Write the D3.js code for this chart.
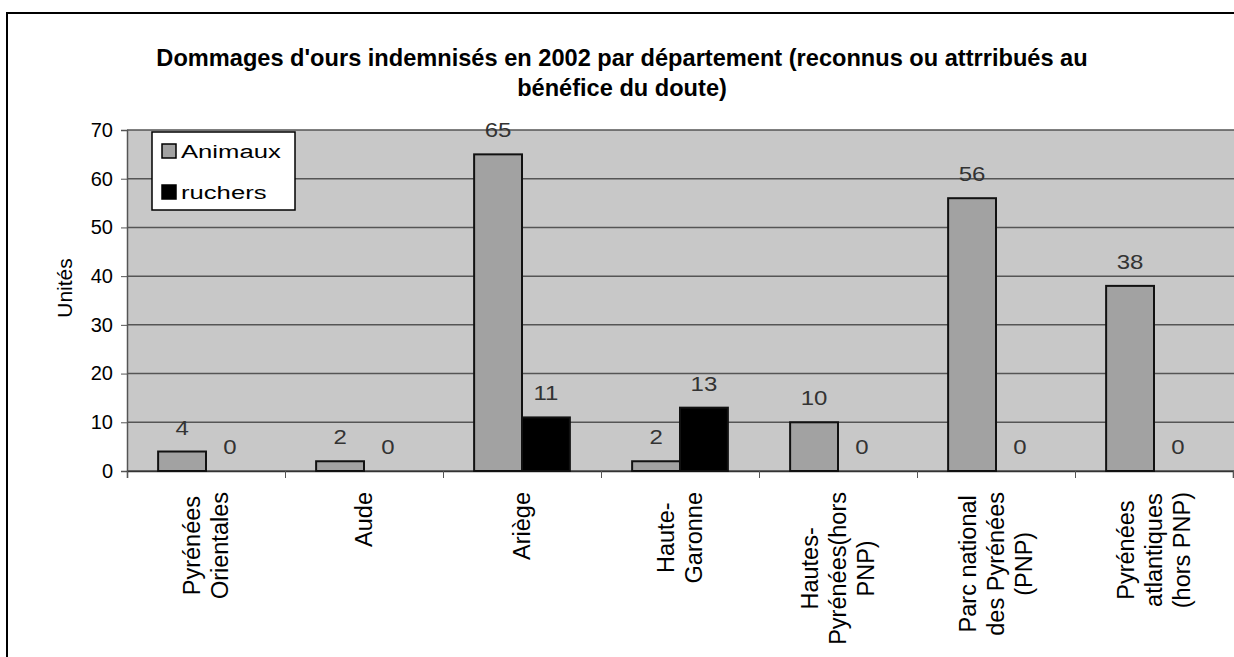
<!DOCTYPE html>
<html><head><meta charset="utf-8">
<script src="https://cdn.jsdelivr.net/npm/d3@7"></script>
<style>body{margin:0;background:#fff;overflow:hidden}</style>
</head><body><svg id="c" width="1234" height="657"></svg>
<script>
// ---- data ----
const categoryLines = [["Pyrénées","Orientales"],["Aude"],["Ariège"],["Haute-","Garonne"],["Hautes-","Pyrénées(hors","PNP)"],["Parc national","des Pyrénées","(PNP)"],["Pyrénées","atlantiques","(hors PNP)"]];
const seriesNames = ["Animaux","ruchers"];
const animaux = [4,2,65,2,10,56,38];
const ruchers = [0,0,11,13,0,0,0];
const yTicks = [0,10,20,30,40,50,60,70];
const titleLines = ["Dommages d'ours indemnisés en 2002 par département (reconnus ou attrribués au","bénéfice du doute)"];
const yLabel = "Unités";

const FONT = "'Liberation Sans', Arial, sans-serif";
const svg = d3.select("#c");
const L = 127, R = 1233, T = 130, B = 471;

const x0 = d3.scaleBand().domain(d3.range(categoryLines.length)).range([L, R]).padding(0);
const x1 = d3.scaleBand().domain(seriesNames).range([0, x0.bandwidth()]).paddingInner(0).paddingOuter(0.65);
const xb = d3.scaleLinear().domain([0, categoryLines.length]).range([L, R]);
const y = d3.scaleLinear().domain([0, 70]).range([B, T]);
const fills = {Animaux: "#a2a2a2", ruchers: "#000"};

// outer border
svg.append("path").attr("d", `M7,657V13H1234`).attr("fill","none").attr("stroke","#000").attr("stroke-width",2);

// title
svg.append("g").selectAll("text").data(titleLines).join("text")
  .attr("x", 622).attr("y", (d,i) => 66 + i*30)
  .attr("text-anchor","middle").attr("font-family",FONT).attr("font-weight","bold")
  .attr("font-size",23.6).text(d => d);

// plot bg
svg.append("rect").attr("x", L).attr("y", T).attr("width", 1234-L).attr("height", B-T).attr("fill", "#c8c8c8");

// gridlines
svg.append("g").selectAll("line").data(yTicks).join("line")
  .attr("x1", L).attr("x2", 1234).attr("y1", d => y(d)).attr("y2", d => y(d))
  .attr("stroke", "#555").attr("stroke-width", 1.5);

// y axis
const ya = svg.append("g").attr("transform", `translate(${L},0)`)
  .call(d3.axisLeft(y).tickValues(yTicks).tickSize(6).tickPadding(8));
ya.select(".domain").attr("stroke","#555").attr("stroke-width",1.5);
ya.selectAll(".tick line").attr("stroke","#555");
ya.selectAll(".tick text").attr("font-family",FONT).attr("font-size",20).attr("fill","#000");

// x axis
const xa = svg.append("g").attr("transform", `translate(0,${B})`)
  .call(d3.axisBottom(xb).tickValues(d3.range(categoryLines.length+1)).tickSize(7).tickFormat(""));
xa.select(".domain").attr("stroke","#333").attr("stroke-width",1.5);
xa.selectAll(".tick line").attr("stroke","#555");

// bars
const rows = categoryLines.map((c,i) => ({i, vals: [{k:"Animaux", v: animaux[i]}, {k:"ruchers", v: ruchers[i]}]}));
const g = svg.append("g").selectAll("g").data(rows).join("g").attr("transform", d => `translate(${x0(d.i)},0)`);
g.selectAll("rect").data(d => d.vals.filter(e => e.v > 0)).join("rect")
  .attr("x", d => x1(d.k)).attr("width", x1.bandwidth())
  .attr("y", d => y(d.v)).attr("height", d => y(0) - y(d.v))
  .attr("fill", d => fills[d.k]).attr("stroke", "#111").attr("stroke-width", 2);
g.selectAll("text").data(d => d.vals).join("text")
  .attr("transform", d => `translate(${x1(d.k) + x1.bandwidth()/2},${y(d.v) - 17}) scale(1.2,1)`)
  .attr("text-anchor","middle").attr("font-family",FONT).attr("font-size",20).attr("fill","#333")
  .text(d => d.v);

// category labels
const LH = 28;
categoryLines.forEach((lines, i) => {
  const cx = x0(i) + x0.bandwidth()/2;
  const grp = svg.append("g");
  const ts = grp.selectAll("text").data(lines).join("text")
    .attr("text-anchor","middle").attr("font-family",FONT).attr("font-size",23.5).attr("dy","0.35em").text(d => d);
  let maxLen = 0;
  ts.each(function(){ maxLen = Math.max(maxLen, this.getComputedTextLength()); });
  const cy = 492 + maxLen/2;
  ts.attr("transform", (d,j) => `translate(${cx + (j - (lines.length-1)/2)*LH},${cy}) rotate(-90)`);
});

// y label
svg.append("text").attr("transform", "translate(65,288) rotate(-90)").attr("dy","0.35em")
  .attr("text-anchor","middle").attr("font-family",FONT).attr("font-size",21).text(yLabel);

// legend
const lg = svg.append("g");
lg.append("rect").attr("x",152).attr("y",132).attr("width",143).attr("height",78).attr("fill","#fff").attr("stroke","#000").attr("stroke-width",1.5);
const li = lg.selectAll("g").data(seriesNames).join("g").attr("transform",(d,i)=>`translate(0,${151 + i*41})`);
li.append("rect").attr("x",162).attr("y",-7).attr("width",14).attr("height",14)
  .attr("fill", d => fills[d]).attr("stroke","#000").attr("stroke-width",1.5);
li.append("text").attr("transform","translate(181,0) scale(1.35,1)").attr("dy","0.35em")
  .attr("font-family",FONT).attr("font-size",19).text(d => d);
</script></body></html>
